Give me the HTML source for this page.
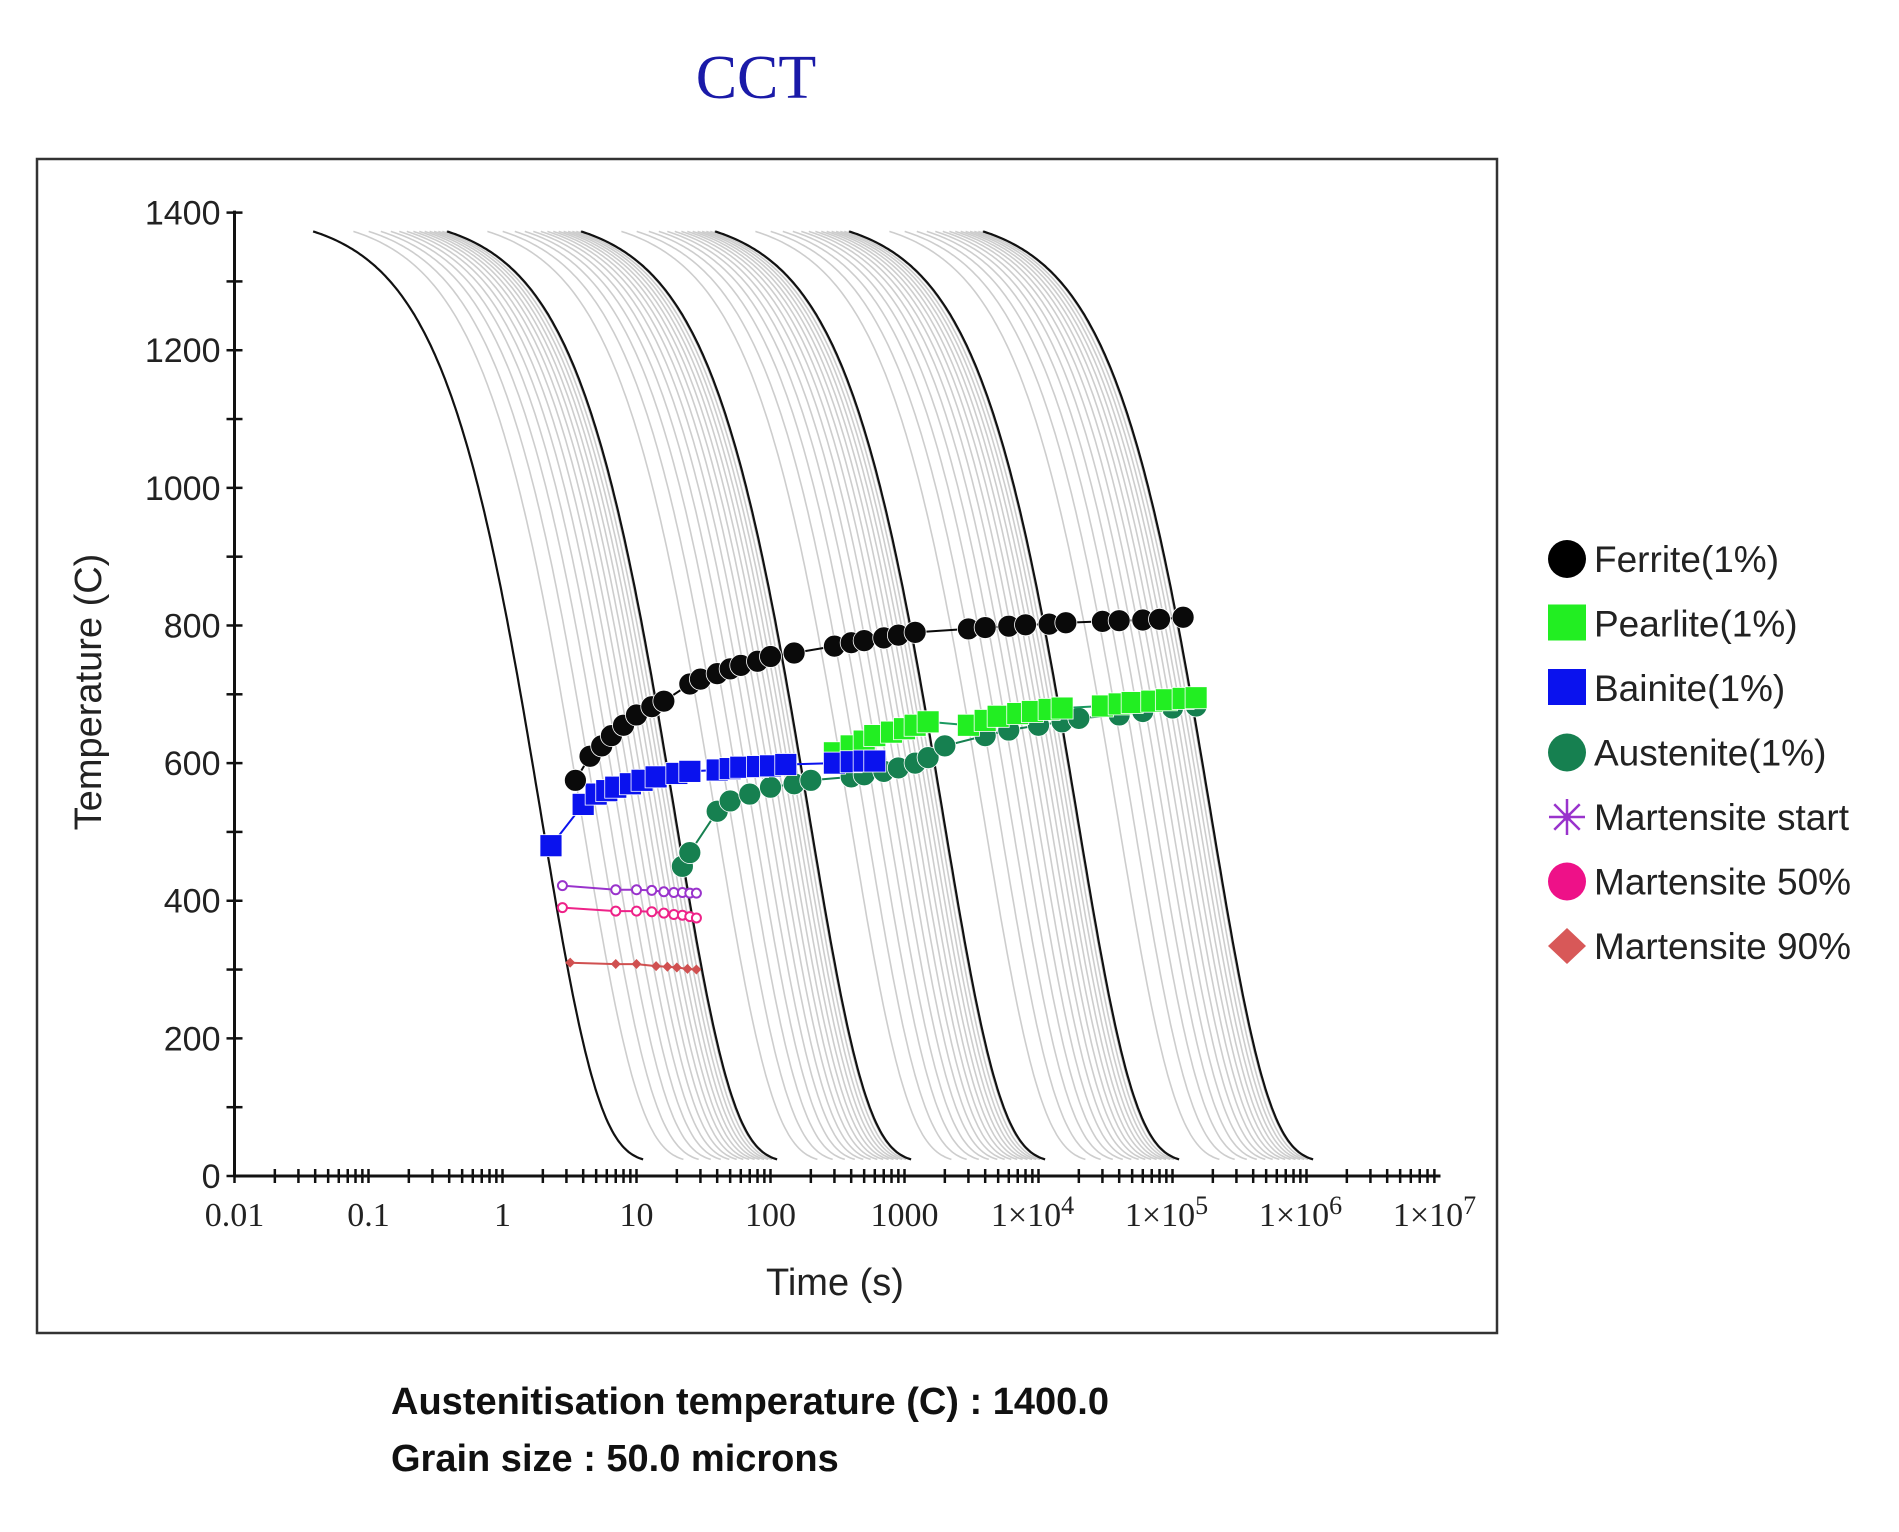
<!DOCTYPE html>
<html><head><meta charset="utf-8"><style>
html,body{margin:0;padding:0;background:#fff;}
body{width:1899px;height:1532px;position:relative;overflow:hidden;font-family:"Liberation Sans",sans-serif;}
svg{position:absolute;left:0;top:0;}
</style></head><body>
<svg id="chart" width="1899" height="1532" viewBox="0 0 1899 1532" xmlns="http://www.w3.org/2000/svg">
<text x="756" y="98" text-anchor="middle" font-family="Liberation Serif, serif" font-size="62" fill="#1a1aa8">CCT</text>
<rect x="37" y="159" width="1460" height="1174" fill="none" stroke="#333" stroke-width="2.5"/>
<g id="curves"></g>
<g id="axes"></g>
<g id="series"></g>
<text transform="translate(101,692) rotate(-90)" text-anchor="middle" font-size="38" fill="#222">Temperature (C)</text>
<text x="835" y="1295" text-anchor="middle" font-size="38" fill="#222">Time (s)</text>
<g id="legend"></g>
<text x="391" y="1414" font-size="38" font-weight="bold" fill="#111">Austenitisation temperature (C) : 1400.0</text>
<text x="391" y="1471" font-size="38" font-weight="bold" fill="#111">Grain size : 50.0 microns</text>
</svg>
<script>
const tickValuesY=[0,200,400,600,800,1000,1200,1400];
const tickLabelsX=["0.01","0.1","1","10","100","1000","1×10^4","1×10^5","1×10^6","1×10^7"];
const blackTaus=[1.93,19.3,193,1930,19300,193000];
const grayMultipliers=[2,2.6,3.2,3.8,4.4,5,5.6,6.2,6.8,7.4,8,8.6,9.2,9.8];
const ferriteT=[3.5,4.5,5.5,6.5,8,10,13,16,25,30,40,50,60,80,100,150,300,400,500,700,900,1200,3000,4000,6000,8000,12000,16000,30000,40000,60000,80000,120000];
const ferriteV=[575,610,625,640,655,670,682,690,715,722,730,737,742,748,755,760,770,775,778,782,786,790,795,797,799,801,802,804,806,807,808,809,812];
const pearliteT=[300,400,500,600,800,1000,1200,1500,3000,4000,5000,7000,9000,12000,15000,30000,40000,50000,70000,90000,120000,150000];
const pearliteV=[615,625,632,640,645,650,655,660,655,662,668,672,675,678,680,683,686,688,690,692,694,695];
const bainiteT=[2.3,4,5,6,7,9,11,14,20,25,40,50,60,80,100,130,300,400,500,600];
const bainiteV=[480,540,555,560,565,570,575,580,585,588,590,592,594,595,596,598,600,602,603,603];
const austeniteT=[22,25,40,50,70,100,150,200,400,500,700,900,1200,1500,2000,4000,6000,10000,15000,20000,40000,60000,100000,150000];
const austeniteV=[450,470,530,545,555,565,570,575,580,583,588,593,600,608,625,640,648,655,660,665,670,675,680,683];
const msT=[2.8,7,10,13,16,19,22,25,28];
const msV=[422,416,416,415,413,412,412,411,411];
const m50T=[2.8,7,10,13,16,19,22,25,28];
const m50V=[390,385,385,384,382,380,379,377,375];
const m90T=[3.2,7,10,14,17,20,24,28];
const m90V=[310,308,308,305,304,303,301,300];

const NS="http://www.w3.org/2000/svg";
const X0=234.5,DEC=134,Y0=1176,YTOP=212.6;
function xs(t){return X0+(Math.log10(t)+2)*DEC;}
function ys(v){return Y0-(v/1400)*(Y0-YTOP);}
function mk(tag,attrs,parent){const e=document.createElementNS(NS,tag);for(const k in attrs)e.setAttribute(k,attrs[k]);parent.appendChild(e);return e;}

const cg=document.getElementById('curves');
function curve(tau,color,w){
  let pts=[];
  const t0=tau*0.02,t1=tau*5.8;
  for(let i=0;i<=160;i++){const t=t0*Math.pow(t1/t0,i/160);const T=20+1380*Math.exp(-t/tau);pts.push(xs(t).toFixed(1)+","+ys(T).toFixed(1));}
  return mk('polyline',{points:pts.join(' '),fill:'none',stroke:color,'stroke-width':w},cg);
}
blackTaus.forEach((tau,i)=>{
  if(i<blackTaus.length-1){grayMultipliers.forEach(m=>{
    const g=curve(tau*m,'#cdcdcd',1.6);
    
    
  });}
});
blackTaus.forEach(tau=>{
  const b=curve(tau,'#111',2.2);
  
  
});

const ax=document.getElementById('axes');
const xEnd=xs(1e7);
mk('line',{x1:X0,y1:YTOP-2,x2:X0,y2:Y0,stroke:'#111','stroke-width':3},ax);
mk('line',{x1:X0,y1:Y0,x2:xEnd,y2:Y0,stroke:'#111','stroke-width':3},ax);
for(let v=0;v<=1400;v+=100){mk('line',{x1:X0-8,y1:ys(v),x2:X0+8,y2:ys(v),stroke:'#111','stroke-width':2.5},ax);}
tickValuesY.forEach(v=>{
  const t=mk('text',{x:X0-14,y:ys(v)+12,'text-anchor':'end','font-size':34,fill:'#222'},ax);
  t.textContent=String(v);
  
  
});
for(let d=-2;d<7;d++){for(let k=1;k<10;k++){const x=xs(k*Math.pow(10,d));mk('line',{x1:x,y1:Y0-7,x2:x,y2:Y0+7,stroke:'#111','stroke-width':2.5},ax);}}
tickLabelsX.forEach((lab,i)=>{
  const x=X0+i*DEC;
  const t=mk('text',{x:x,y:1226,'text-anchor':'middle','font-size':34,'font-family':'Liberation Serif, serif',fill:'#222'},ax);
  
  
  if(lab.includes('^')){const [b,e]=lab.split('^');t.textContent=b;const s=mk('tspan',{dy:-12,'font-size':26},t);s.textContent=e;t.setAttribute('x',x-6);}
  else t.textContent=lab;
});

const sg=document.getElementById('series');
function series(T,V,color,shape,size,name,lineColor){
  const g=mk('g',{},sg);
  
  
  mk('polyline',{points:T.map((t,i)=>xs(t).toFixed(1)+","+ys(V[i]).toFixed(1)).join(' '),fill:'none',stroke:lineColor||color,'stroke-width':2},g);
  T.forEach((t,i)=>{
    const x=xs(t),y=ys(V[i]);let m;
    if(shape==='circle')m=mk('circle',{cx:x,cy:y,r:size/2,fill:color,stroke:'#fff','stroke-width':0.8},g);
    else if(shape==='square')m=mk('rect',{x:x-size/2,y:y-size/2,width:size,height:size,fill:color,stroke:'#fff','stroke-width':0.8},g);
    else if(shape==='ring')m=mk('circle',{cx:x,cy:y,r:size/2,fill:'#fff',stroke:color,'stroke-width':2},g);
    else m=mk('polygon',{points:`${x},${y-size/2} ${x+size/2},${y} ${x},${y+size/2} ${x-size/2},${y}`,fill:color},g);
    
    
  });
}
series(austeniteT,austeniteV,'#168050','circle',22,'austenite-series');
series(pearliteT,pearliteV,'#22ee22','square',22,'pearlite-series','#1a9960');
series(bainiteT,bainiteV,'#0a12ee','square',22,'bainite-series');
series(ferriteT,ferriteV,'#0a0a0a','circle',22,'ferrite-series');
series(msT,msV,'#9933cc','ring',9,'martensite-start-series');
series(m50T,m50V,'#ee2288','ring',9,'martensite-50-series');
series(m90T,m90V,'#d05050','diamond',10,'martensite-90-series');

const lg=document.getElementById('legend');
const legLabels=["Ferrite(1%)","Pearlite(1%)","Bainite(1%)","Austenite(1%)","Martensite start","Martensite 50%","Martensite 90%"];
const legColors=["#000","#22ee22","#0a12ee","#168050","#9933cc","#ee1188","#d85858"];
const legShapes=["circle","square","square","circle","star","circle","diamond"];
legLabels.forEach((lab,i)=>{
  const y=559+i*64.5,x=1567;
  const g=mk('g',{},lg);
  
  
  const s=legShapes[i],c=legColors[i];
  if(s==='circle')mk('circle',{cx:x,cy:y,r:19,fill:c},g);
  else if(s==='square')mk('rect',{x:x-19,y:y-19,width:38,height:36,fill:c},g);
  else if(s==='diamond')mk('polygon',{points:`${x},${y-18} ${x+19},${y} ${x},${y+18} ${x-19},${y}`,fill:c},g);
  else{for(let a=0;a<4;a++){const ang=a*Math.PI/4;mk('line',{x1:x-18*Math.cos(ang),y1:y-18*Math.sin(ang),x2:x+18*Math.cos(ang),y2:y+18*Math.sin(ang),stroke:c,'stroke-width':2.5},g);}mk('circle',{cx:x,cy:y,r:4,fill:c},g);}
  const t=mk('text',{x:1594,y:y+13,'font-size':37,fill:'#222'},g);
  t.textContent=lab;
});
</script>
</body></html>
